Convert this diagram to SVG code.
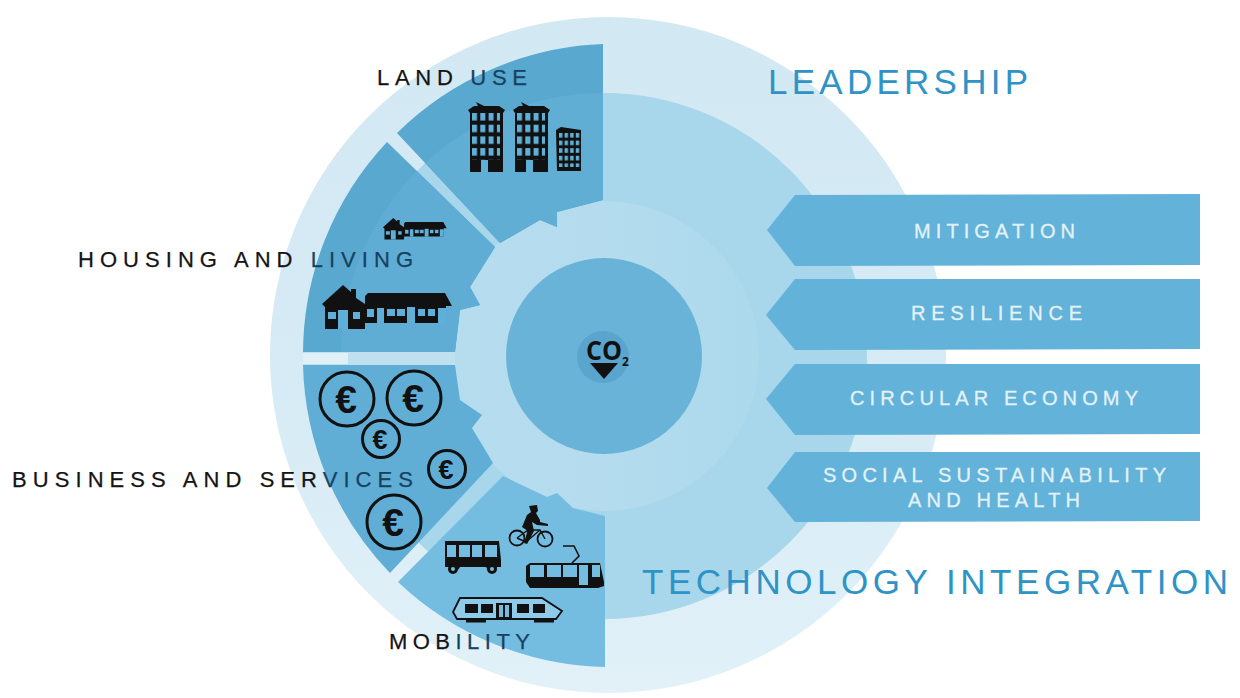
<svg xmlns="http://www.w3.org/2000/svg" xmlns:xlink="http://www.w3.org/1999/xlink" width="1240" height="698" viewBox="0 0 1240 698">
<style>
text{font-family:"Liberation Sans",Arial,sans-serif}
.head{font-size:35px;fill:#2f93c6}
.lab{font-size:22px;fill:#141414;stroke:#141414;stroke-width:.25}
.lab tspan{fill:#17425f;stroke:#17425f}
.arr{font-size:20px;fill:#e4f2f8;stroke:#e4f2f8;stroke-width:.3}
.arrow{fill:#62b2da}
.k{fill:#111}
.w{fill:#5fb0d8}
.m{fill:#74bde0}
.coin{fill:none;stroke:#111;stroke-width:3}
.eur{font-weight:bold;fill:#111;text-anchor:middle}
</style>
<defs>
<linearGradient id="outer" x1="0" y1="0" x2="0" y2="1"><stop offset="0" stop-color="#d2e8f3"/><stop offset="0.55" stop-color="#d6ebf5"/><stop offset="1" stop-color="#e2f1f8"/></linearGradient>
<linearGradient id="ring" x1="0" y1="0" x2="1" y2="0"><stop offset="0" stop-color="#b6ddee"/><stop offset="0.5" stop-color="#b4dcee"/><stop offset="1" stop-color="#acd9ec"/></linearGradient>
<clipPath id="disc"><circle cx="604" cy="356" r="263"/></clipPath>
<path id="s1" d="M603 44A310 310 0 0 0 397 133L500 243L540 220L557 227L557 212L603 200Z"/>
<path id="s2" d="M387 142A310 310 0 0 0 303 352H455L460 310L480 305L470 287L495 247Z"/>
<path id="s3" d="M303 365A310 310 0 0 0 390 573L493 463L472 428L482 415L460 400L455 365Z"/>
<pattern id="win" width="8.3" height="11.7" patternUnits="userSpaceOnUse" x="472" y="113"><rect width="5" height="7.5" fill="#5fb0d8"/></pattern>
<pattern id="win2" width="5.6" height="7.6" patternUnits="userSpaceOnUse" x="559" y="133"><rect width="3.4" height="4.6" fill="#5fb0d8"/></pattern>
<g id="house">
<path class="k" d="M322 304L343 285L351 292V289H356V298L365 304V296L368 293H445L452 306H446V323H365V329H325V307Z"/>
<rect class="w" x="328" y="312" width="8" height="7"/><rect class="w" x="353" y="312" width="7" height="7"/><rect class="w" x="338" y="310" width="10" height="19"/>
<rect class="w" x="367" y="309" width="7" height="8"/><rect class="w" x="377" y="308" width="7" height="15"/><rect class="w" x="387" y="309" width="8" height="7"/><rect class="w" x="397" y="309" width="8" height="7"/><rect class="w" x="407" y="307" width="8" height="16"/><rect class="w" x="418" y="309" width="7" height="7"/><rect class="w" x="428" y="309" width="7" height="7"/><rect class="w" x="438" y="308" width="8" height="15"/>
</g>
<g id="tower">
<path class="k" d="M468 110L474 106L478 106L476 102L484 106H499L505 110L503 113V172H470V113Z"/>
<rect x="472" y="113" width="28" height="47" fill="url(#win)"/>
<rect class="w" x="481" y="160" width="7" height="12"/>
</g>
</defs>

<g id="background">
<circle cx="608" cy="355" r="338" fill="url(#outer)"/>
<circle cx="604" cy="356" r="263" fill="#a8d6ea"/>
<circle cx="604" cy="356" r="155" fill="url(#ring)"/>
<rect x="303" y="352" width="152" height="13" fill="#bfe0ef"/>
<rect x="303" y="353" width="45" height="11" fill="#e0f0f7"/>
</g>

<g id="land-use">
<use xlink:href="#s1" fill="#59a8d0"/>
<use xlink:href="#s1" fill="#61aed5" clip-path="url(#disc)"/>
<use xlink:href="#tower"/>
<use xlink:href="#tower" transform="translate(45 0)"/>
<path class="k" d="M556 130L561 127L581 130V171H557Z"/>
<rect x="559" y="133" width="21" height="34" fill="url(#win2)"/>
<text class="lab" x="377" y="85" textLength="150" lengthAdjust="spacing">LAND <tspan>USE</tspan></text>
</g>

<g id="housing-and-living">
<use xlink:href="#s2" fill="#59a8d0"/>
<use xlink:href="#s2" fill="#5fadd5" clip-path="url(#disc)"/>
<use xlink:href="#house"/>
<use xlink:href="#house" transform="translate(383 218) scale(0.49) translate(-322 -285)"/>
<text class="lab" x="78" y="267" textLength="335" lengthAdjust="spacing">HOUSING AND <tspan>LIVING</tspan></text>
</g>

<g id="business-and-services">
<use xlink:href="#s3" fill="#60aed6"/>
<g class="coin">
<circle cx="347" cy="399" r="27"/><circle cx="414" cy="398" r="27"/><circle cx="381" cy="439" r="18.5"/><circle cx="447" cy="469" r="18.5"/><circle cx="394" cy="522" r="27"/>
</g>
<text class="eur" x="346" y="413" font-size="39">€</text>
<text class="eur" x="413" y="412" font-size="39">€</text>
<text class="eur" x="380" y="449" font-size="27">€</text>
<text class="eur" x="446" y="479" font-size="27">€</text>
<text class="eur" x="393" y="536" font-size="39">€</text>
<text class="lab" x="12" y="487" textLength="401" lengthAdjust="spacing">BUSINESS AND SER<tspan>VICES</tspan></text>
</g>

<g id="mobility">
<path class="m" d="M503 476L547 497L557 493L573 508L605 516V667A310 310 0 0 1 398 582Z"/>
<g id="bus">
<path class="k" d="M445 541H499L501 560V567H497A6 6 0 0 1 486 567H460A6 6 0 0 1 449 567H445Z"/>
<rect class="m" x="447" y="545" width="9" height="12"/><rect class="m" x="459" y="545" width="11" height="12"/><rect class="m" x="472" y="545" width="10" height="12"/><rect class="m" x="485" y="545" width="12" height="12"/>
<circle class="k" cx="453" cy="569" r="5"/><circle class="k" cx="492" cy="569" r="5"/><circle class="m" cx="453" cy="569" r="2"/><circle class="m" cx="492" cy="569" r="2"/>
</g>
<g id="bicycle">
<circle cx="517" cy="538" r="7.5" fill="none" stroke="#111" stroke-width="1.8"/>
<circle cx="545" cy="539" r="7.5" fill="none" stroke="#111" stroke-width="1.8"/>
<path d="M517 538L528 530L540 530L545 539M528 530L526 542M526 542L517 538M526 542L540 530" fill="none" stroke="#111" stroke-width="1.4"/>
<path class="k" d="M529 506L537 505L538 511L536 513L540 520L540 522L548 524L548 526L537 525L532 522L534 531L527 544L524 543L528 531L522 527L527 515L531 512Z"/>
</g>
<g id="tram">
<path d="M563 546H574L579 556L572 563" fill="none" stroke="#111" stroke-width="1.6"/>
<path class="k" d="M530 563H600L604 582V586L598 588H530L526 582V566Z"/>
<rect class="m" x="530" y="565" width="14" height="12"/><rect class="m" x="547" y="565" width="14" height="12"/><rect class="m" x="563" y="565" width="14" height="12"/><rect class="m" x="579" y="565" width="9" height="20"/><rect class="m" x="592" y="565" width="8" height="12"/>
</g>
<g id="train">
<path d="M460 598H542L562 611L556 619H457L453 612Z" fill="#8fcbe8" stroke="#111" stroke-width="1.8"/>
<rect class="k" x="465" y="604" width="13" height="9"/><rect class="k" x="481" y="604" width="12" height="9"/><rect class="k" x="496" y="603" width="16" height="15"/><rect class="m" x="499" y="605" width="4" height="12"/><rect class="m" x="505" y="605" width="4" height="12"/><rect class="k" x="517" y="604" width="12" height="9"/><rect class="k" x="533" y="604" width="12" height="9"/>
<rect class="k" x="466" y="620" width="20" height="2.5"/><rect class="k" x="534" y="620" width="20" height="2.5"/>
</g>
<text class="lab" x="389" y="649" textLength="141" lengthAdjust="spacing">MOB<tspan>ILITY</tspan></text>
</g>

<g id="co2">
<circle cx="604" cy="356" r="98" fill="#69b3d9"/>
<circle cx="603" cy="357" r="26" fill="#5aa5cd"/>
<text x="586" y="360" font-size="26" font-weight="bold" fill="#111" textLength="36" lengthAdjust="spacingAndGlyphs" style="font-family:'Open Sans',sans-serif">CO</text>
<text x="622" y="366" font-size="12" font-weight="bold" fill="#111" style="font-family:'Open Sans',sans-serif">2</text>
<polygon class="k" points="590,363 618,363 604,379"/>
</g>

<g id="connectors">
<g id="mitigation"><polygon class="arrow" points="767,230 795,195 1200,194 1200,265 795,266"/><text class="arr" x="914" y="238" textLength="161" lengthAdjust="spacing">MITIGATION</text></g>
<g id="resilience"><polygon class="arrow" points="766,315 795,279 1200,279 1200,349 795,350"/><text class="arr" x="911" y="320" textLength="171" lengthAdjust="spacing">RESILIENCE</text></g>
<g id="circular-economy"><polygon class="arrow" points="766,399 795,364 1200,364 1200,434 795,435"/><text class="arr" x="850" y="405" textLength="288" lengthAdjust="spacing">CIRCULAR ECONOMY</text></g>
<g id="social"><polygon class="arrow" points="767,488 795,452 1200,452 1200,521 795,522"/><text class="arr" x="823" y="482" textLength="343" lengthAdjust="spacing">SOCIAL SUSTAINABILITY</text><text class="arr" x="908" y="507" textLength="172" lengthAdjust="spacing">AND HEALTH</text></g>
</g>

<text class="head" x="768" y="94" textLength="260" lengthAdjust="spacing">LEADERSHIP</text>
<text class="head" x="642" y="594" textLength="586" lengthAdjust="spacing">TECHNOLOGY INTEGRATION</text>
</svg>
